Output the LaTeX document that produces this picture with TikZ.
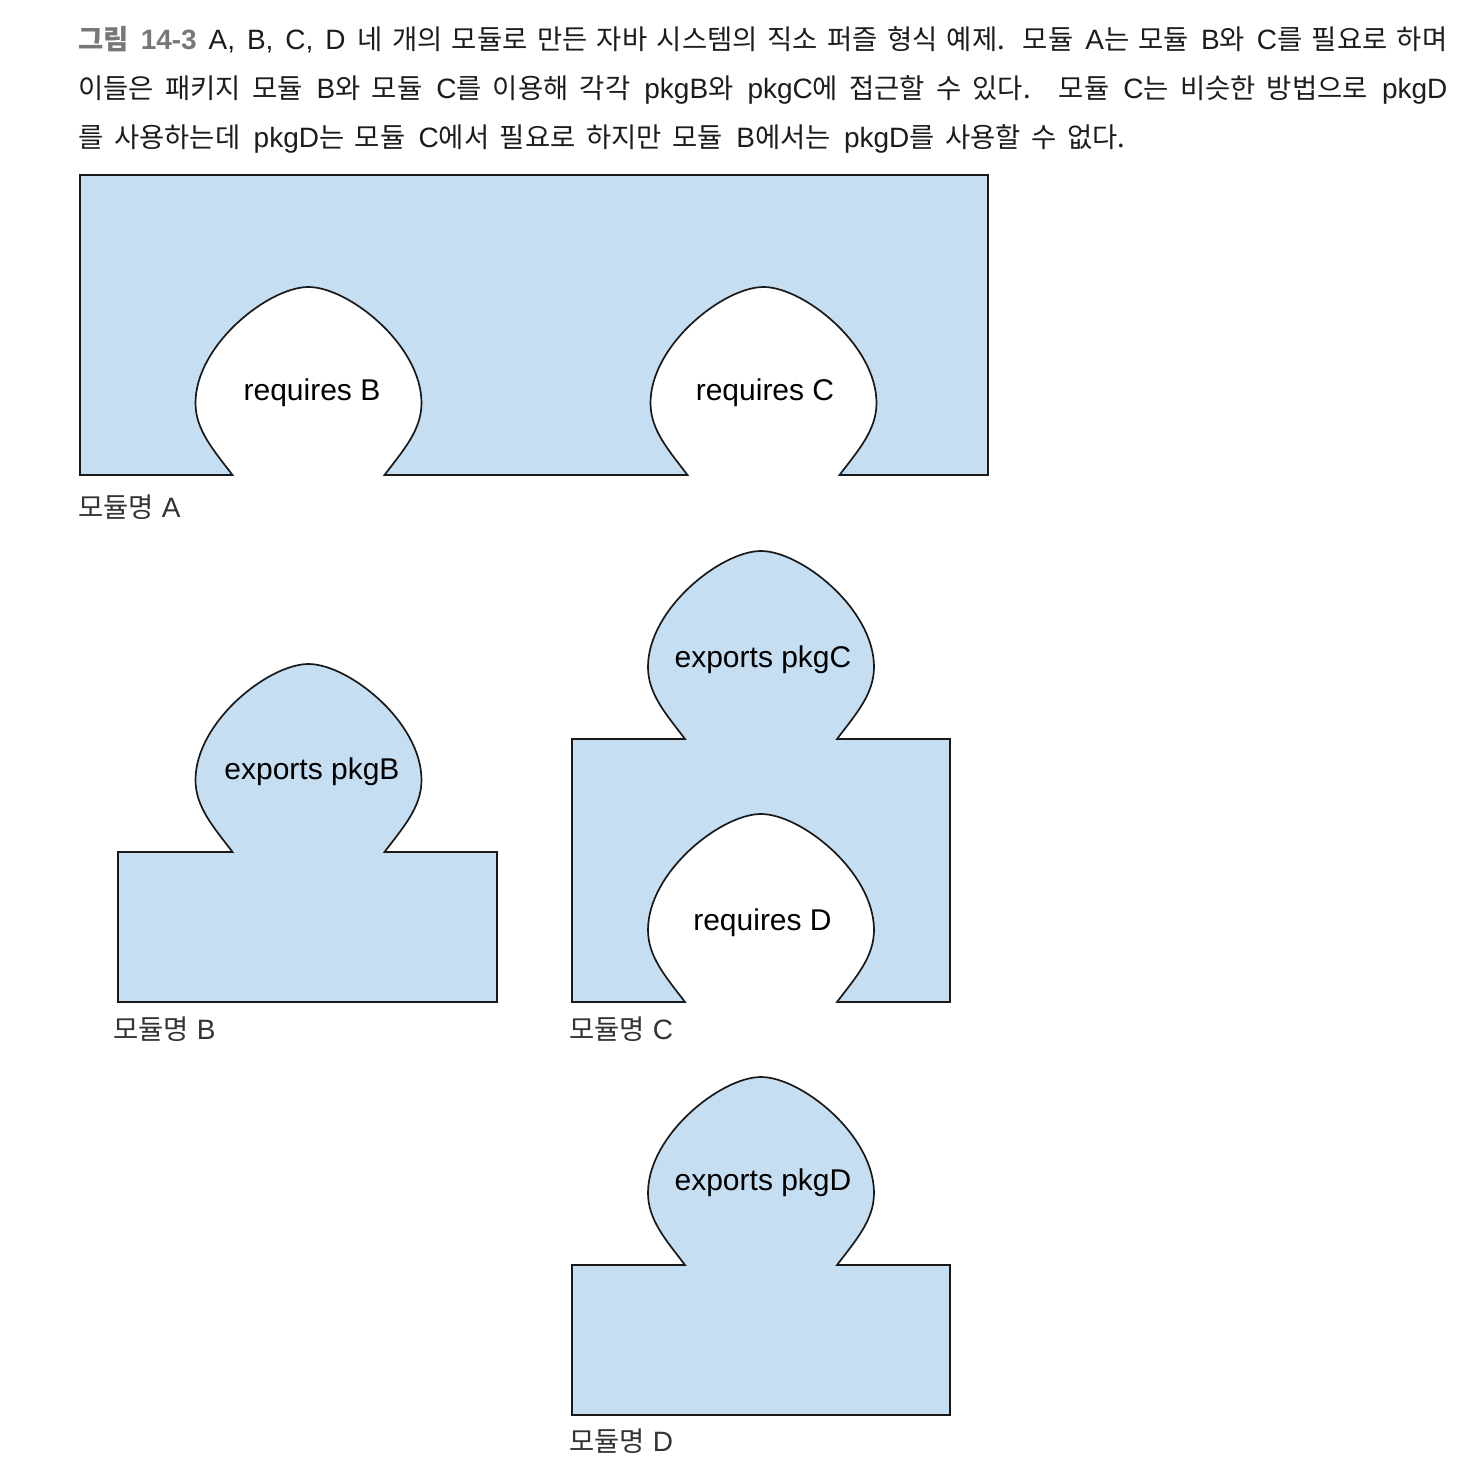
\documentclass[tikz,border=0pt]{standalone}
\usepackage{fontspec}
\usepackage{xcolor}
\setmainfont{Liberation Sans}
\newfontfamily\kr{Noto Sans CJK KR}[Scale=0.98]
\definecolor{piecefill}{HTML}{C5DEF2}
\definecolor{capgray}{HTML}{777777}
\definecolor{captext}{HTML}{1C1C1C}
\definecolor{namegray}{HTML}{333333}

% a knob pointing up, base centre (#1,#2), drawn left to right
\newcommand{\knob}[2]{%
	-- (#1-76,#2) .. controls (#1-95,#2-25) and (#1-113,#2-45) .. (#1-113,#2-72)
	.. controls (#1-113,#2-130) and (#1-40,#2-188) .. (#1,#2-188)
	.. controls (#1+40,#2-188) and (#1+113,#2-130) .. (#1+113,#2-72)
	.. controls (#1+113,#2-45) and (#1+95,#2-25) .. (#1+76,#2)}
% the same knob, drawn right to left
\newcommand{\knobrev}[2]{%
	-- (#1+76,#2) .. controls (#1+95,#2-25) and (#1+113,#2-45) .. (#1+113,#2-72)
	.. controls (#1+113,#2-130) and (#1+40,#2-188) .. (#1,#2-188)
	.. controls (#1-40,#2-188) and (#1-113,#2-130) .. (#1-113,#2-72)
	.. controls (#1-113,#2-45) and (#1-95,#2-25) .. (#1-76,#2)}

\tikzset{
	piece/.style={draw=black!90, fill=piecefill, line width=0.85pt},
	knoblabel/.style={anchor=base, inner sep=0pt, font=\fontsize{15}{18}\selectfont},
	modname/.style={anchor=base west, inner sep=0pt, text=namegray, font=\fontsize{14}{17}\selectfont},
	capline/.style={anchor=base west, inner sep=0pt, text=captext, font=\fontsize{14}{17}\selectfont},
}

\begin{document}
\begin{tikzpicture}[x=0.5pt, y=-0.5pt]
	\useasboundingbox (0,0) rectangle (1470,1484);
	%
	% caption
	\node[capline] (cap1) at (78,49) {\makebox[684.5pt][s]{{\color{capgray}\bfseries{\kr 그림} 14-3} A, B, C, D {\kr 네 개의 모듈로 만든 자바 시스템의 직소 퍼즐 형식 예제. 모듈} A{\kr 는 모듈} B{\kr 와} C{\kr 를 필요로 하며}}};
	\node[capline] (cap2) at (78,98) {\makebox[684.5pt][s]{{\kr 이들은 패키지 모듈} B{\kr 와 모듈} C{\kr 를 이용해 각각} pkgB{\kr 와} pkgC{\kr 에 접근할 수 있다.}\ \ {\kr 모듈} C{\kr 는 비슷한 방법으로} pkgD}};
	\node[capline] (cap3) at (78,147) {\makebox[523.5pt][s]{{\kr 를 사용하는데} pkgD{\kr 는 모듈} C{\kr 에서 필요로 하지만 모듈} B{\kr 에서는} pkgD{\kr 를 사용할 수 없다.}}};
	%
	% module A
	\draw[piece] (80,175) -- (988,175) -- (988,475) \knobrev{763.5}{475} \knobrev{308.5}{475} -- (80,475) -- cycle;
	\node[knoblabel] (reqB) at (312,400) {requires B};
	\node[knoblabel] (reqC) at (765,400) {requires C};
	\node[modname] (nameA) at (78,517) {{\kr 모듈명} A};
	%
	% module B
	\draw[piece] (118,852) \knob{308.5}{852} -- (497,852) -- (497,1002) -- (118,1002) -- cycle;
	\node[knoblabel] (expB) at (312,779) {exports pkgB};
	\node[modname] (nameB) at (113,1039) {{\kr 모듈명} B};
	%
	% module C
	\draw[piece] (572,739) \knob{761}{739} -- (950,739) -- (950,1002) \knobrev{761}{1002} -- (572,1002) -- cycle;
	\node[knoblabel] (expC) at (763,667) {exports pkgC};
	\node[knoblabel] (reqD) at (762.5,930) {requires D};
	\node[modname] (nameC) at (569,1039) {{\kr 모듈명} C};
	%
	% module D
	\draw[piece] (572,1265) \knob{761}{1265} -- (950,1265) -- (950,1415) -- (572,1415) -- cycle;
	\node[knoblabel] (expD) at (763,1190) {exports pkgD};
	\node[modname] (nameD) at (569,1451) {{\kr 모듈명} D};
\end{tikzpicture}
\end{document}
